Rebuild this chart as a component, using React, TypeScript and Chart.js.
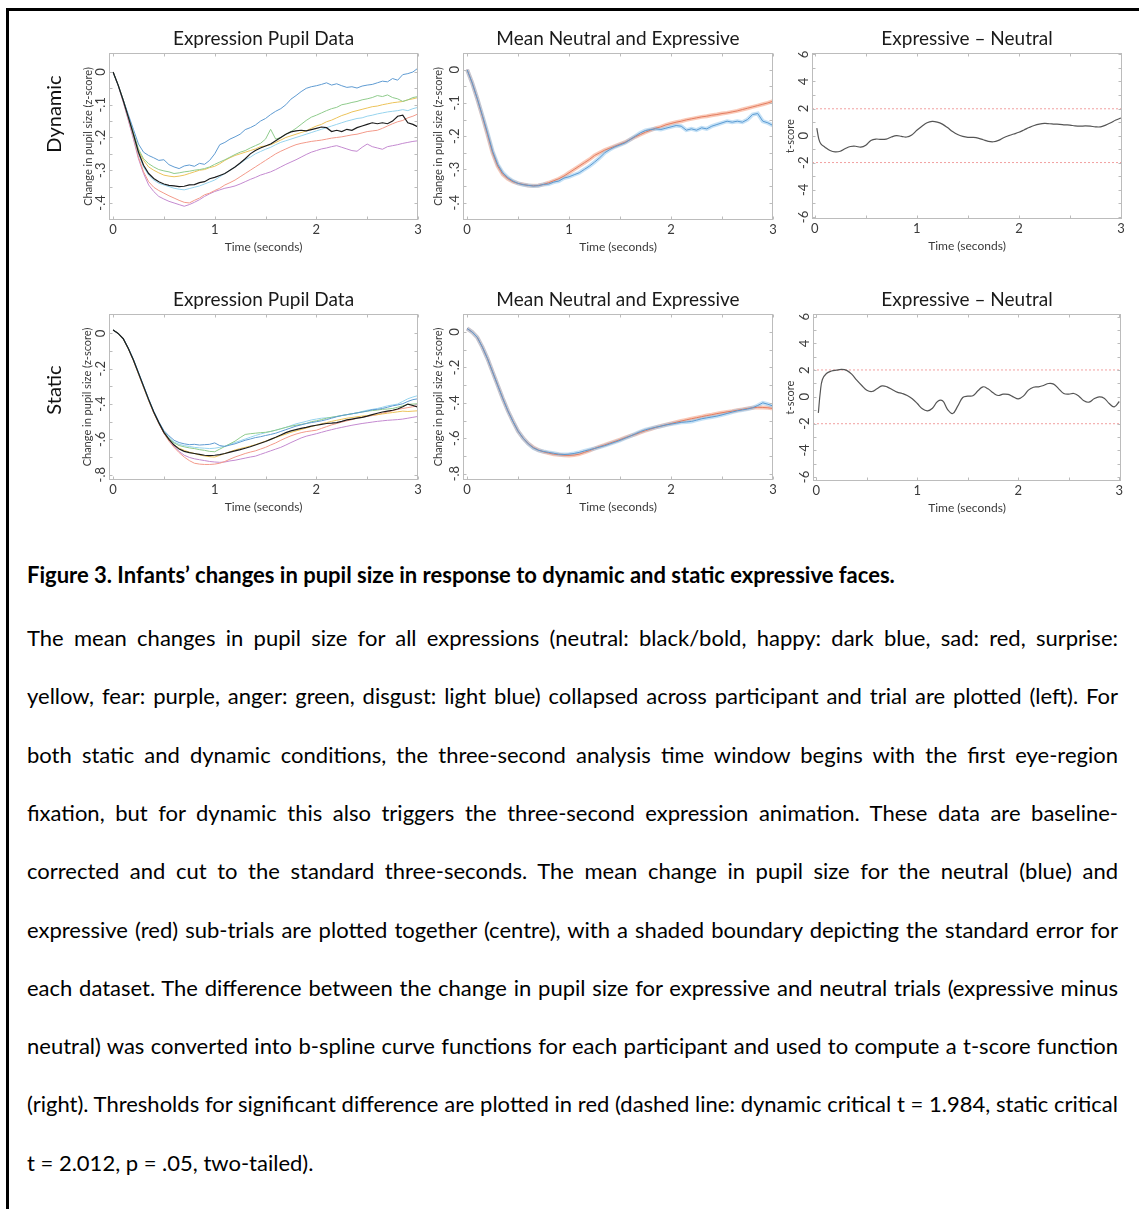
import React, { useEffect, useRef } from "react";
import { Chart, registerables } from "chart.js";
Chart.register(...registerables);
Chart.defaults.font.family = "Lato";

// ---------- time axes ----------
const T = [0,0.05,0.1,0.15,0.2,0.25,0.3,0.35,0.4,0.45,
0.5,0.55,0.6,0.65,0.7,0.75,0.8,0.85,0.9,0.95,
1,1.05,1.1,1.15,1.2,1.25,1.3,1.35,1.4,1.45,
1.5,1.55,1.6,1.65,1.7,1.75,1.8,1.85,1.9,1.95,
2,2.05,2.1,2.15,2.2,2.25,2.3,2.35,2.4,2.45,
2.5,2.55,2.6,2.65,2.7,2.75,2.8,2.85,2.9,2.95,3];

const TT = [0.02,0.04,0.06,0.1,0.15,0.2,0.25,0.3,0.35,0.4,
0.45,0.5,0.55,0.6,0.65,0.7,0.75,0.8,0.85,0.9,
0.95,1,1.05,1.1,1.15,1.2,1.25,1.3,1.35,1.4,
1.45,1.5,1.55,1.6,1.65,1.7,1.75,1.8,1.85,1.9,
1.95,2,2.05,2.1,2.15,2.2,2.25,2.3,2.35,2.4,
2.45,2.5,2.55,2.6,2.65,2.7,2.75,2.8,2.85,2.9,
2.95,3];

// ---------- dynamic: pupil change per expression ----------
const DYN_NEUTRAL = [0,-0.04,-0.087,-0.138,-0.19,-0.245,-0.285,-0.31,-0.325,-0.335,
-0.342,-0.346,-0.348,-0.35,-0.349,-0.345,-0.344,-0.338,-0.335,-0.326,
-0.322,-0.316,-0.31,-0.3,-0.29,-0.278,-0.265,-0.25,-0.24,-0.232,
-0.226,-0.22,-0.21,-0.2,-0.19,-0.183,-0.18,-0.178,-0.18,-0.176,
-0.172,-0.168,-0.17,-0.182,-0.178,-0.182,-0.175,-0.178,-0.17,-0.165,
-0.16,-0.155,-0.158,-0.155,-0.158,-0.15,-0.135,-0.132,-0.155,-0.16,-0.168];
const DYN_HAPPY = [0,-0.04,-0.085,-0.13,-0.175,-0.22,-0.245,-0.255,-0.262,-0.27,
-0.268,-0.283,-0.29,-0.295,-0.287,-0.284,-0.288,-0.279,-0.282,-0.27,
-0.25,-0.222,-0.215,-0.205,-0.198,-0.19,-0.176,-0.17,-0.162,-0.15,
-0.142,-0.13,-0.12,-0.112,-0.1,-0.083,-0.072,-0.06,-0.05,-0.045,
-0.042,-0.038,-0.033,-0.04,-0.036,-0.042,-0.047,-0.045,-0.049,-0.043,
-0.04,-0.038,-0.033,-0.028,-0.03,-0.02,-0.025,-0.008,-0.005,0,0.012];
const DYN_SAD = [0,-0.04,-0.09,-0.145,-0.2,-0.26,-0.305,-0.335,-0.352,-0.362,
-0.37,-0.378,-0.385,-0.392,-0.398,-0.4,-0.392,-0.385,-0.375,-0.37,
-0.362,-0.355,-0.345,-0.338,-0.33,-0.32,-0.31,-0.3,-0.29,-0.28,
-0.27,-0.26,-0.25,-0.242,-0.235,-0.228,-0.222,-0.218,-0.215,-0.212,
-0.21,-0.208,-0.205,-0.202,-0.2,-0.198,-0.195,-0.192,-0.19,-0.186,
-0.182,-0.18,-0.178,-0.172,-0.165,-0.158,-0.152,-0.148,-0.14,-0.135,-0.128];
const DYN_SURPRISE = [0,-0.04,-0.085,-0.135,-0.19,-0.24,-0.27,-0.29,-0.3,-0.308,
-0.315,-0.318,-0.32,-0.318,-0.315,-0.31,-0.305,-0.3,-0.298,-0.292,
-0.288,-0.28,-0.27,-0.262,-0.255,-0.25,-0.245,-0.24,-0.235,-0.228,
-0.226,-0.222,-0.215,-0.208,-0.2,-0.195,-0.19,-0.185,-0.18,-0.172,
-0.165,-0.16,-0.152,-0.147,-0.14,-0.133,-0.128,-0.122,-0.118,-0.114,
-0.11,-0.106,-0.104,-0.1,-0.097,-0.094,-0.092,-0.09,-0.085,-0.082,-0.078];
const DYN_FEAR = [0,-0.042,-0.092,-0.148,-0.205,-0.265,-0.31,-0.345,-0.365,-0.38,
-0.388,-0.395,-0.4,-0.405,-0.41,-0.405,-0.398,-0.39,-0.38,-0.372,
-0.365,-0.36,-0.355,-0.352,-0.348,-0.342,-0.335,-0.328,-0.322,-0.315,
-0.31,-0.305,-0.298,-0.29,-0.282,-0.275,-0.268,-0.26,-0.252,-0.245,
-0.24,-0.235,-0.232,-0.228,-0.225,-0.23,-0.235,-0.24,-0.242,-0.23,
-0.22,-0.228,-0.232,-0.236,-0.228,-0.225,-0.222,-0.218,-0.215,-0.212,-0.21];
const DYN_ANGER = [0,-0.04,-0.085,-0.135,-0.185,-0.235,-0.265,-0.28,-0.29,-0.298,
-0.302,-0.305,-0.31,-0.308,-0.305,-0.303,-0.3,-0.298,-0.295,-0.29,
-0.282,-0.275,-0.268,-0.26,-0.252,-0.245,-0.24,-0.232,-0.225,-0.218,
-0.205,-0.175,-0.205,-0.2,-0.19,-0.182,-0.172,-0.16,-0.148,-0.138,
-0.132,-0.125,-0.118,-0.112,-0.108,-0.1,-0.097,-0.093,-0.09,-0.085,
-0.082,-0.078,-0.072,-0.075,-0.07,-0.078,-0.082,-0.09,-0.085,-0.078,-0.075];
const DYN_DISGUST = [0,-0.04,-0.088,-0.14,-0.195,-0.25,-0.29,-0.315,-0.33,-0.34,
-0.345,-0.35,-0.355,-0.358,-0.36,-0.356,-0.352,-0.348,-0.342,-0.336,
-0.33,-0.32,-0.31,-0.3,-0.29,-0.28,-0.268,-0.26,-0.25,-0.243,
-0.236,-0.23,-0.222,-0.215,-0.21,-0.205,-0.2,-0.195,-0.19,-0.185,
-0.18,-0.175,-0.17,-0.165,-0.16,-0.155,-0.15,-0.146,-0.142,-0.14,
-0.135,-0.132,-0.128,-0.125,-0.122,-0.12,-0.118,-0.115,-0.118,-0.112,-0.108];
const DYN_EXPRESSIVE = [0,-0.04,-0.088,-0.14,-0.195,-0.25,-0.29,-0.315,-0.328,-0.337,
-0.342,-0.345,-0.348,-0.349,-0.348,-0.345,-0.34,-0.334,-0.328,-0.32,
-0.31,-0.3,-0.29,-0.28,-0.27,-0.258,-0.25,-0.242,-0.236,-0.23,
-0.224,-0.218,-0.21,-0.202,-0.195,-0.188,-0.182,-0.176,-0.172,-0.166,
-0.162,-0.158,-0.155,-0.151,-0.148,-0.145,-0.142,-0.14,-0.137,-0.135,
-0.132,-0.13,-0.127,-0.124,-0.12,-0.116,-0.112,-0.108,-0.104,-0.1,-0.095];
const DYN_T = [0.55,-0.25,-0.6,-0.85,-1.1,-1.2,-1.15,-0.95,-0.8,-0.78,
-0.85,-0.7,-0.35,-0.25,-0.28,-0.25,-0.1,0,-0.05,-0.1,
0.05,0.4,0.7,0.95,1.05,1,0.85,0.6,0.3,0.08,
-0.05,-0.12,-0.13,-0.18,-0.3,-0.42,-0.45,-0.35,-0.15,0,
0.12,0.25,0.42,0.6,0.75,0.85,0.9,0.88,0.85,0.84,
0.8,0.78,0.72,0.7,0.72,0.7,0.65,0.65,0.78,0.95,1.15,1.3];
const DYN_CRIT = 1.984;

// ---------- static ----------
const STA_NEUTRAL = [0.02,0,-0.03,-0.085,-0.15,-0.225,-0.3,-0.375,-0.445,-0.505,
-0.56,-0.6,-0.632,-0.655,-0.668,-0.675,-0.68,-0.685,-0.69,-0.692,
-0.69,-0.686,-0.68,-0.672,-0.665,-0.658,-0.65,-0.642,-0.632,-0.622,
-0.612,-0.6,-0.588,-0.575,-0.562,-0.552,-0.545,-0.538,-0.532,-0.525,
-0.52,-0.515,-0.51,-0.508,-0.505,-0.498,-0.49,-0.485,-0.48,-0.475,
-0.468,-0.46,-0.452,-0.445,-0.44,-0.435,-0.428,-0.415,-0.4,-0.408,-0.418];
const STA_HAPPY = [0.02,0,-0.028,-0.082,-0.146,-0.22,-0.295,-0.37,-0.44,-0.5,
-0.55,-0.58,-0.605,-0.618,-0.625,-0.63,-0.628,-0.632,-0.63,-0.628,
-0.62,-0.635,-0.64,-0.632,-0.625,-0.615,-0.605,-0.598,-0.59,-0.585,
-0.578,-0.572,-0.565,-0.555,-0.545,-0.535,-0.525,-0.518,-0.51,-0.505,
-0.5,-0.495,-0.488,-0.48,-0.472,-0.465,-0.46,-0.455,-0.45,-0.445,
-0.44,-0.432,-0.43,-0.425,-0.418,-0.41,-0.405,-0.398,-0.385,-0.375,-0.37];
const STA_SAD = [0.02,0,-0.031,-0.087,-0.153,-0.23,-0.305,-0.38,-0.45,-0.51,
-0.565,-0.61,-0.645,-0.675,-0.7,-0.72,-0.735,-0.74,-0.742,-0.742,
-0.74,-0.735,-0.725,-0.712,-0.7,-0.69,-0.68,-0.672,-0.665,-0.655,
-0.645,-0.632,-0.62,-0.605,-0.592,-0.58,-0.57,-0.562,-0.556,-0.552,
-0.548,-0.538,-0.528,-0.518,-0.51,-0.502,-0.495,-0.488,-0.48,-0.475,
-0.47,-0.465,-0.46,-0.452,-0.445,-0.438,-0.43,-0.425,-0.42,-0.415,-0.41];
const STA_SURPRISE = [0.02,0,-0.03,-0.086,-0.152,-0.228,-0.303,-0.378,-0.448,-0.508,
-0.562,-0.602,-0.632,-0.65,-0.662,-0.672,-0.68,-0.688,-0.694,-0.698,
-0.7,-0.69,-0.68,-0.67,-0.66,-0.652,-0.645,-0.638,-0.63,-0.62,
-0.61,-0.6,-0.59,-0.58,-0.57,-0.56,-0.552,-0.544,-0.536,-0.528,
-0.52,-0.512,-0.505,-0.498,-0.492,-0.486,-0.48,-0.476,-0.472,-0.468,
-0.465,-0.462,-0.46,-0.456,-0.452,-0.448,-0.444,-0.44,-0.442,-0.44,-0.438];
const STA_FEAR = [0.02,0,-0.031,-0.087,-0.153,-0.23,-0.305,-0.38,-0.45,-0.51,
-0.565,-0.605,-0.64,-0.668,-0.69,-0.702,-0.71,-0.715,-0.72,-0.725,
-0.728,-0.73,-0.728,-0.722,-0.718,-0.712,-0.706,-0.7,-0.695,-0.685,
-0.675,-0.665,-0.655,-0.645,-0.632,-0.618,-0.605,-0.592,-0.582,-0.575,
-0.568,-0.56,-0.552,-0.545,-0.538,-0.532,-0.526,-0.52,-0.515,-0.51,
-0.506,-0.502,-0.498,-0.495,-0.492,-0.49,-0.488,-0.485,-0.48,-0.475,-0.47];
const STA_ANGER = [0.02,0,-0.03,-0.085,-0.15,-0.225,-0.3,-0.375,-0.445,-0.505,
-0.558,-0.595,-0.62,-0.635,-0.642,-0.648,-0.652,-0.658,-0.662,-0.668,
-0.67,-0.655,-0.64,-0.625,-0.61,-0.59,-0.572,-0.568,-0.565,-0.562,
-0.56,-0.555,-0.548,-0.54,-0.532,-0.525,-0.52,-0.515,-0.51,-0.5,
-0.495,-0.488,-0.48,-0.475,-0.47,-0.465,-0.46,-0.455,-0.45,-0.445,
-0.44,-0.437,-0.434,-0.43,-0.428,-0.425,-0.418,-0.41,-0.402,-0.4,-0.398];
const STA_DISGUST = [0.02,0,-0.03,-0.084,-0.148,-0.223,-0.298,-0.373,-0.443,-0.502,
-0.555,-0.59,-0.615,-0.628,-0.635,-0.64,-0.645,-0.648,-0.65,-0.652,
-0.65,-0.645,-0.638,-0.628,-0.618,-0.608,-0.598,-0.588,-0.578,-0.57,
-0.562,-0.555,-0.548,-0.54,-0.532,-0.522,-0.512,-0.505,-0.498,-0.49,
-0.485,-0.48,-0.478,-0.475,-0.47,-0.465,-0.46,-0.455,-0.45,-0.442,
-0.435,-0.43,-0.425,-0.418,-0.41,-0.405,-0.4,-0.385,-0.37,-0.36,-0.352];
const STA_EXPRESSIVE = [0.02,0,-0.03,-0.085,-0.15,-0.225,-0.3,-0.375,-0.445,-0.505,
-0.56,-0.6,-0.63,-0.652,-0.667,-0.677,-0.684,-0.69,-0.693,-0.696,
-0.697,-0.695,-0.69,-0.68,-0.67,-0.658,-0.647,-0.638,-0.628,-0.618,
-0.608,-0.597,-0.587,-0.578,-0.567,-0.557,-0.548,-0.539,-0.531,-0.524,
-0.517,-0.51,-0.503,-0.496,-0.49,-0.484,-0.478,-0.472,-0.467,-0.461,
-0.456,-0.451,-0.447,-0.442,-0.437,-0.432,-0.428,-0.425,-0.426,-0.428,-0.432];
const STA_T = [-1.2,0.4,1.3,1.75,1.93,2,2.05,1.98,1.7,1.25,
0.85,0.5,0.4,0.6,0.82,0.75,0.55,0.35,0.25,0.1,
-0.15,-0.5,-0.9,-1.05,-0.85,-0.35,-0.3,-0.95,-1.25,-0.7,
-0.05,0.05,0.08,0.45,0.75,0.6,0.3,0.1,0.2,0.18,
0,-0.15,0.05,0.5,0.72,0.75,0.85,1,0.95,0.6,
0.25,0.2,0.25,0.05,-0.3,-0.4,-0.15,0,-0.1,-0.5,-0.75,-0.35];
const STA_CRIT = 2.012;

// ---------- ticks ----------
const X_TICKS = [0, 1, 2, 3];
const X_LABELS = ["0", "1", "2", "3"];
const X_MINOR = [0.5, 1.5, 2.5];
const Y_DYN = [0, -0.1, -0.2, -0.3, -0.4];
const Y_DYN_LABELS = ["0", "-.1", "-.2", "-.3", "-.4"];
const Y_DYN_MINOR = [-0.05, -0.15, -0.25, -0.35];
const Y_STA = [0, -0.2, -0.4, -0.6, -0.8];
const Y_STA_LABELS = ["0", "-.2", "-.4", "-.6", "-.8"];
const Y_STA_MINOR = [-0.1, -0.3, -0.5, -0.7];
const Y_T = [6, 4, 2, 0, -2, -4, -6];
const Y_T_LABELS = ["6", "4", "2", "0", "-2", "-4", "-6"];
const Y_T_MINOR = [5, 3, 1, -1, -3, -5];

const COL = {
  neutral: "#1c1c1c", happy: "#5f9bd2", sad: "#f39a8a", surprise: "#ecc35a",
  fear: "#c48ad0", anger: "#8fcb8c", disgust: "#97d4ee",
};

const CAPTION_TITLE = "Figure 3. Infants\u2019 changes in pupil size in response to dynamic and static expressive faces.";
const CAPTION_LINES = [
  "The mean changes in pupil size for all expressions (neutral: black/bold, happy: dark blue, sad: red, surprise:",
  "yellow, fear: purple, anger: green, disgust: light blue) collapsed across participant and trial are plotted (left). For",
  "both static and dynamic conditions, the three-second analysis time window begins with the first eye-region",
  "fixation, but for dynamic this also triggers the three-second expression animation. These data are baseline-",
  "corrected and cut to the standard three-seconds. The mean change in pupil size for the neutral (blue) and",
  "expressive (red) sub-trials are plotted together (centre), with a shaded boundary depicting the standard error for",
  "each dataset. The difference between the change in pupil size for expressive and neutral trials (expressive minus",
  "neutral) was converted into b-spline curve functions for each participant and used to compute a t-score function",
  "(right). Thresholds for significant difference are plotted in red (dashed line: dynamic critical t = 1.984, static critical",
  "t = 2.012, p = .05, two-tailed).",
];

// ---------- layout ----------
const PADX = 80, TITLE_H = 40, XAX_H = 40;
type Box = { l: number; t: number; r: number; b: number };

const pts = (xs: number[], ys: number[]) => xs.map((x, i) => ({ x, y: ys[i] })).filter((p) => p.y !== undefined);
const line = (xs: number[], ys: number[], color: string, width = 1, extra: any = {}) => ({
  data: pts(xs, ys), borderColor: color, borderWidth: width, pointRadius: 0, tension: 0, fill: false, ...extra,
});

function makeFrame(xMinor: number[], yMajor: number[], yMinor: number[]) {
  return {
    id: "frame",
    afterDraw(chart: any) {
      const { ctx, chartArea: a, scales } = chart;
      ctx.save();
      ctx.strokeStyle = "#bcbcbc";
      ctx.lineWidth = 1;
      const L = Math.round(a.left) + 0.5, R = Math.round(a.right) - 0.5;
      const Tp = Math.round(a.top) + 0.5, B = Math.round(a.bottom) - 0.5;
      ctx.strokeRect(L, Tp, R - L, B - Tp);
      ctx.beginPath();
      [...X_TICKS, ...xMinor].forEach((v) => {
        const px = Math.round(scales.x.getPixelForValue(v)) + 0.5;
        ctx.moveTo(px, B); ctx.lineTo(px, B - 3);
        ctx.moveTo(px, Tp); ctx.lineTo(px, Tp + 3);
      });
      [...yMajor, ...yMinor].forEach((v) => {
        const py = Math.round(scales.y.getPixelForValue(v)) + 0.5;
        ctx.moveTo(L, py); ctx.lineTo(L + 3, py);
        ctx.moveTo(R, py); ctx.lineTo(R - 3, py);
      });
      ctx.stroke();
      ctx.restore();
    },
  };
}

type Spec = {
  box: Box; title: string; yTitle: string; yTitleOff: number; yTickPad: number;
  xMin: number; xMax: number; yMin: number; yMax: number;
  yTicks: number[]; yLabels: string[]; yMinor: number[]; datasets: any[];
};

function makeConfig(s: Spec) {
  const tickColor = "#3a3a3a";
  const titleSize = 19;
  const titleLH = titleSize * 1.2;
  return {
    type: "line",
    data: { datasets: s.datasets },
    options: {
      responsive: false, animation: false, events: [],
      layout: { padding: { left: 0, right: PADX, top: 0, bottom: 0 } },
      plugins: {
        legend: { display: false },
        tooltip: { enabled: false },
        title: {
          display: true, text: s.title, fullSize: false, color: "#1a1a1a",
          font: { family: "Lato", size: titleSize, weight: "normal" },
          padding: { top: TITLE_H - titleLH - 3, bottom: 3 },
        },
      },
      scales: {
        x: {
          type: "linear", min: s.xMin, max: s.xMax,
          grid: { display: false, drawTicks: false }, border: { display: false },
          afterBuildTicks: (sc: any) => { sc.ticks = X_TICKS.map((v) => ({ value: v })); },
          afterFit: (sc: any) => { sc.height = XAX_H; },
          ticks: {
            autoSkip: false, maxRotation: 0, minRotation: 0, padding: 2.2, color: tickColor,
            font: { size: 13 }, callback: (v: number) => X_LABELS[X_TICKS.indexOf(v)],
          },
          title: {
            display: true, text: "Time (seconds)", color: tickColor, font: { size: 12 },
            padding: { top: 0, bottom: 5.8 },
          },
        },
        y: {
          type: "linear", min: s.yMin, max: s.yMax,
          grid: { display: false, drawTicks: false }, border: { display: false },
          afterBuildTicks: (sc: any) => { sc.ticks = s.yTicks.map((v) => ({ value: v })); },
          afterFit: (sc: any) => { sc.width = PADX; },
          ticks: {
            autoSkip: false, minRotation: 90, maxRotation: 90, crossAlign: "center",
            padding: s.yTickPad, color: tickColor, font: { size: 13 },
            callback: (v: number) => s.yLabels[s.yTicks.indexOf(v)],
          },
          title: {
            display: true, text: s.yTitle, color: tickColor, font: { size: 11 },
            padding: { top: PADX - s.yTitleOff - 6.6, bottom: 0 },
          },
        },
      },
    },
    plugins: [makeFrame(X_MINOR, s.yTicks, s.yMinor)],
  };
}

function Panel({ spec }: { spec: Spec }) {
  const ref = useRef<HTMLCanvasElement>(null);
  const { box } = spec;
  const w = box.r - box.l + 2 * PADX;
  const h = box.b - box.t + TITLE_H + XAX_H;
  useEffect(() => {
    const chart = new Chart(ref.current as HTMLCanvasElement, makeConfig(spec) as any);
    return () => chart.destroy();
  }, []);
  return (
    <div style={{ position: "absolute", left: box.l - PADX, top: box.t - TITLE_H, width: w, height: h }}>
      <canvas ref={ref} width={w} height={h} style={{ width: w, height: h, display: "block" }} />
    </div>
  );
}

function expressionSets(n: number[], h: number[], s: number[], su: number[], f: number[], a: number[], d: number[]) {
  return [
    line(T, n, COL.neutral, 1.2),
    line(T, h, COL.happy), line(T, a, COL.anger), line(T, su, COL.surprise),
    line(T, d, COL.disgust), line(T, s, COL.sad), line(T, f, COL.fear),
  ];
}
function meanSets(neutral: number[], expressive: number[]) {
  return [
    line(T, neutral, "#5a9ad2", 1),
    line(T, expressive, "#e27c60", 1),
    line(T, neutral, "rgba(140,195,238,0.5)", 4),
    line(T, expressive, "rgba(246,165,135,0.6)", 4),
  ];
}
function tSets(ys: number[], crit: number, xMin: number, xMax: number) {
  const dash = { borderDash: [2, 2] };
  return [
    line(TT, ys, "#555555", 1.2, { tension: 0.4 }),
    line([xMin, xMax], [crit, crit], "#f2a0a0", 1, dash),
    line([xMin, xMax], [-crit, -crit], "#f2a0a0", 1, dash),
  ];
}

const PUPIL_Y = "Change in pupil size (z-score)";

const SPECS: Spec[] = [
  {
    box: { l: 109, t: 53, r: 418, b: 220 }, title: "Expression Pupil Data", yTitle: PUPIL_Y, yTitleOff: 21, yTickPad: 0,
    xMin: -0.04, xMax: 3, yMin: -0.452, yMax: 0.058, yTicks: Y_DYN, yLabels: Y_DYN_LABELS, yMinor: Y_DYN_MINOR,
    datasets: expressionSets(DYN_NEUTRAL, DYN_HAPPY, DYN_SAD, DYN_SURPRISE, DYN_FEAR, DYN_ANGER, DYN_DISGUST),
  },
  {
    box: { l: 463, t: 53, r: 773, b: 220 }, title: "Mean Neutral and Expressive", yTitle: PUPIL_Y, yTitleOff: 25, yTickPad: 0,
    xMin: -0.04, xMax: 3, yMin: -0.452, yMax: 0.05, yTicks: Y_DYN, yLabels: Y_DYN_LABELS, yMinor: Y_DYN_MINOR,
    datasets: meanSets(DYN_NEUTRAL, DYN_EXPRESSIVE),
  },
  {
    box: { l: 812, t: 53, r: 1122, b: 219 }, title: "Expressive \u2013 Neutral", yTitle: "t-score", yTitleOff: 22, yTickPad: 2,
    xMin: -0.027, xMax: 3.01, yMin: -6.15, yMax: 6.1, yTicks: Y_T, yLabels: Y_T_LABELS, yMinor: Y_T_MINOR,
    datasets: tSets(DYN_T, DYN_CRIT, -0.027, 3.01),
  },
  {
    box: { l: 109, t: 314, r: 418, b: 480 }, title: "Expression Pupil Data", yTitle: PUPIL_Y, yTitleOff: 22, yTickPad: 0,
    xMin: -0.04, xMax: 3, yMin: -0.83, yMax: 0.11, yTicks: Y_STA, yLabels: Y_STA_LABELS, yMinor: Y_STA_MINOR,
    datasets: expressionSets(STA_NEUTRAL, STA_HAPPY, STA_SAD, STA_SURPRISE, STA_FEAR, STA_ANGER, STA_DISGUST),
  },
  {
    box: { l: 463, t: 314, r: 773, b: 480 }, title: "Mean Neutral and Expressive", yTitle: PUPIL_Y, yTitleOff: 25, yTickPad: 0,
    xMin: -0.04, xMax: 3, yMin: -0.836, yMax: 0.102, yTicks: Y_STA, yLabels: Y_STA_LABELS, yMinor: Y_STA_MINOR,
    datasets: meanSets(STA_NEUTRAL, STA_EXPRESSIVE),
  },
  {
    box: { l: 813, t: 314, r: 1121, b: 481 }, title: "Expressive \u2013 Neutral", yTitle: "t-score", yTitleOff: 23, yTickPad: 2,
    xMin: -0.033, xMax: 3.017, yMin: -6.3, yMax: 6.2, yTicks: Y_T, yLabels: Y_T_LABELS, yMinor: Y_T_MINOR,
    datasets: tSets(STA_T, STA_CRIT, -0.033, 3.017),
  },
];

const ROW_LABELS = [
  { text: "Dynamic", x: 53, y: 114 },
  { text: "Static", x: 53, y: 390 },
];

export default function App() {
  const capFont = "Lato, 'Open Sans', sans-serif";
  const capSize = 22;
  return (
    <div style={{ position: "absolute", left: 0, top: 0, width: 1139, height: 1209, background: "#fff", overflow: "hidden" }}>
      <div style={{ position: "absolute", left: 6, top: 8, width: 1133, height: 1201, borderTop: "3px solid #000", borderLeft: "3px solid #000", boxSizing: "border-box" }} />
      {SPECS.map((s, i) => <Panel key={i} spec={s} />)}
      {ROW_LABELS.map((r) => (
        <div key={r.text} style={{
          position: "absolute", left: r.x, top: r.y, transform: "translate(-50%, -50%) rotate(-90deg)",
          fontFamily: capFont, fontSize: 20, color: "#111", whiteSpace: "nowrap",
        }}>{r.text}</div>
      ))}
      <div style={{ position: "absolute", left: 27, top: 575 - 16, height: 32, lineHeight: "32px", fontFamily: capFont, fontWeight: 700, fontSize: capSize, color: "#000", whiteSpace: "nowrap" }}>
        {CAPTION_TITLE}
      </div>
      {CAPTION_LINES.map((t, i) => {
        const last = i === CAPTION_LINES.length - 1;
        return (
          <div key={i} style={{
            position: "absolute", left: 27, width: 1091, top: 638 + i * 58.3 - 16, height: 32, lineHeight: "32px",
            fontFamily: capFont, fontSize: capSize, color: "#000", whiteSpace: "nowrap",
            textAlign: last ? "left" : "justify", textAlignLast: last ? "left" : "justify",
          } as any}>{t}</div>
        );
      })}
    </div>
  );
}
